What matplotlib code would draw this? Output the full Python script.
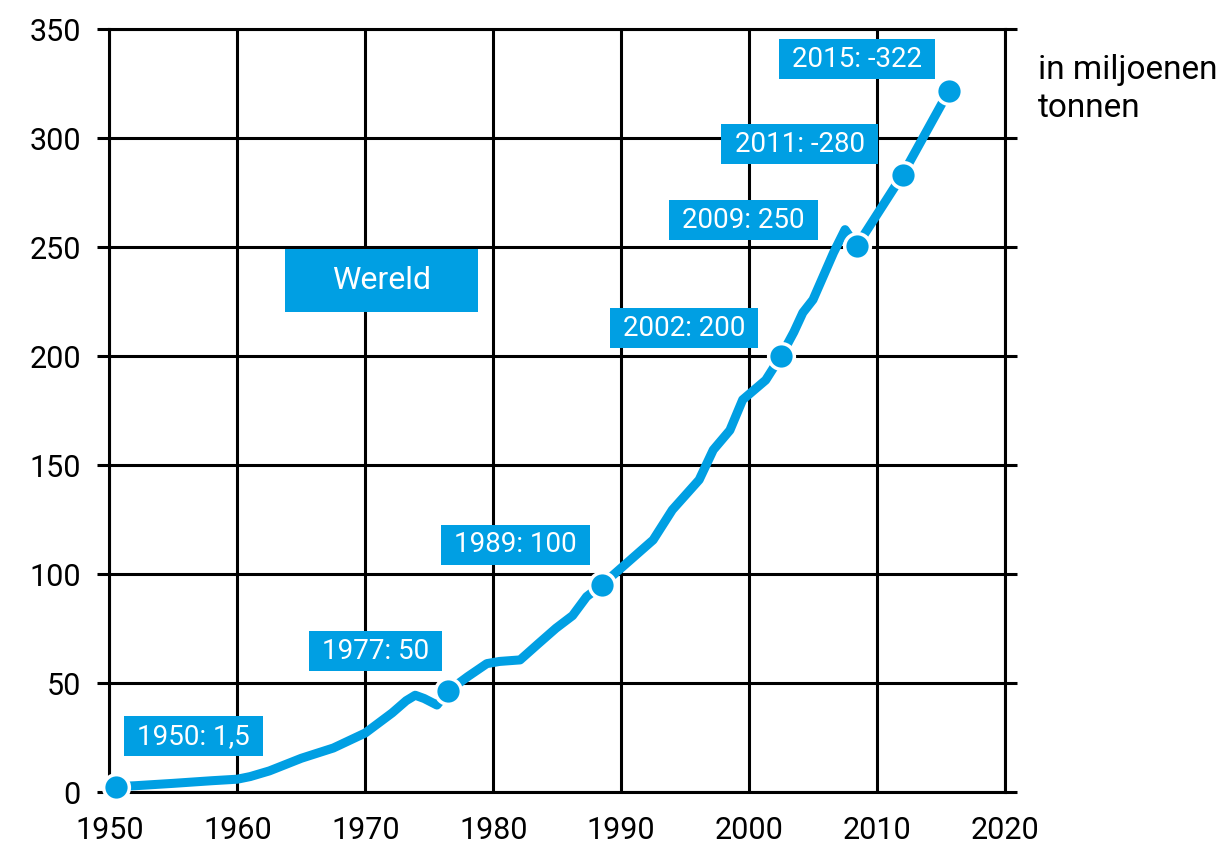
import matplotlib
matplotlib.use("Agg")
import matplotlib.pyplot as plt

plt.rcParams['font.family'] = ['Roboto', 'DejaVu Sans']

blauw = '#009fe3'

# wereldproductie plastic, in miljoenen tonnen
jaren = [1950.5, 1952, 1955, 1958, 1960, 1961, 1962.5, 1965, 1967.5, 1970,
         1972.1, 1973.2, 1973.9, 1974.6, 1975.6, 1976.5, 1978, 1979.5, 1980.5,
         1982.1, 1983.5, 1984.9, 1986.2, 1987.3, 1988.5, 1992.5, 1994.0,
         1996.1, 1997.2, 1998.5, 1999.5, 2001.3, 2002.5, 2003.5, 2004.2,
         2005.0, 2006.6, 2007.5, 2008.4, 2012.0, 2015.6]
tonnen = [2.6, 3.0, 4.1, 5.3, 6.0, 7.2, 9.8, 15.6, 20.3, 27.2,
          36.4, 42.0, 44.5, 43.0, 40.0, 46.5, 53.0, 59.0, 60.0,
          60.7, 68.0, 75.2, 81.0, 89.7, 95.1, 115.7, 129.5,
          143.3, 157.0, 166.0, 180.0, 189.0, 200.1, 211.0, 219.9,
          225.9, 247.4, 258.0, 250.3, 283.2, 321.4]

punt_jaren = [1950.5, 1976.5, 1988.5, 2002.5, 2008.4, 2012.0, 2015.6]
punt_tonnen = [2.6, 46.5, 95.1, 200.1, 250.3, 283.2, 321.4]

labels = ['1950: 1,5', '1977: 50', '1989: 100', '2002: 200',
          '2009: 250', '2011: -280', '2015: -322']
label_x = [1956.56, 1970.82, 1981.76, 1994.92, 1999.57, 2003.95, 2008.44]
label_y = [25.6, 64.6, 113.4, 212.8, 262.3, 297.2, 336.2]

x_ticks = list(range(1950, 2021, 10))
y_ticks = list(range(0, 351, 50))

fig = plt.figure(figsize=(12.3, 8.46), dpi=100)
ax = fig.add_axes([0.089, 0.0635, 0.728, 0.9022])
ax.set_xlim(1950, 2020)
ax.set_ylim(0, 350)
ax.set_xticks(x_ticks)
ax.set_yticks(y_ticks)
ax.grid(True, color='black', lw=2.2, zorder=1)
ax.set_axisbelow(True)
for s in ax.spines.values():
    s.set_color('black')
    s.set_linewidth(2.2)
ax.tick_params(axis='y', left=True, right=True, length=8.6, width=2.2,
               direction='out', labelsize=22, pad=12, colors='black')
ax.tick_params(axis='x', length=0, pad=17, labelsize=22)

ax.plot(jaren, tonnen, color=blauw, lw=6.5, solid_capstyle='round',
        solid_joinstyle='round', zorder=3, clip_on=False)
ax.plot(punt_jaren, punt_tonnen, 'o', ms=18.5, mfc=blauw, mec='white',
        mew=2.5, zorder=4, clip_on=False)

for s, x, y in zip(labels, label_x, label_y):
    ax.text(x, y, s, color='white', fontsize=20, ha='center', va='center',
            bbox=dict(boxstyle='square,pad=0.47', fc=blauw, ec='none',
                      mutation_aspect=0.5), zorder=5)

ax.text(1971.25, 234.5, 'Wereld', color='white', fontsize=23, ha='center',
        va='center', bbox=dict(boxstyle='square,pad=1.47', fc=blauw, ec='none',
                               mutation_aspect=0.36), zorder=5)

fig.text(0.844, 0.936, 'in miljoenen\ntonnen', fontsize=24, va='top',
         ha='left', linespacing=1.25)

fig.savefig('out.png', dpi=100)
